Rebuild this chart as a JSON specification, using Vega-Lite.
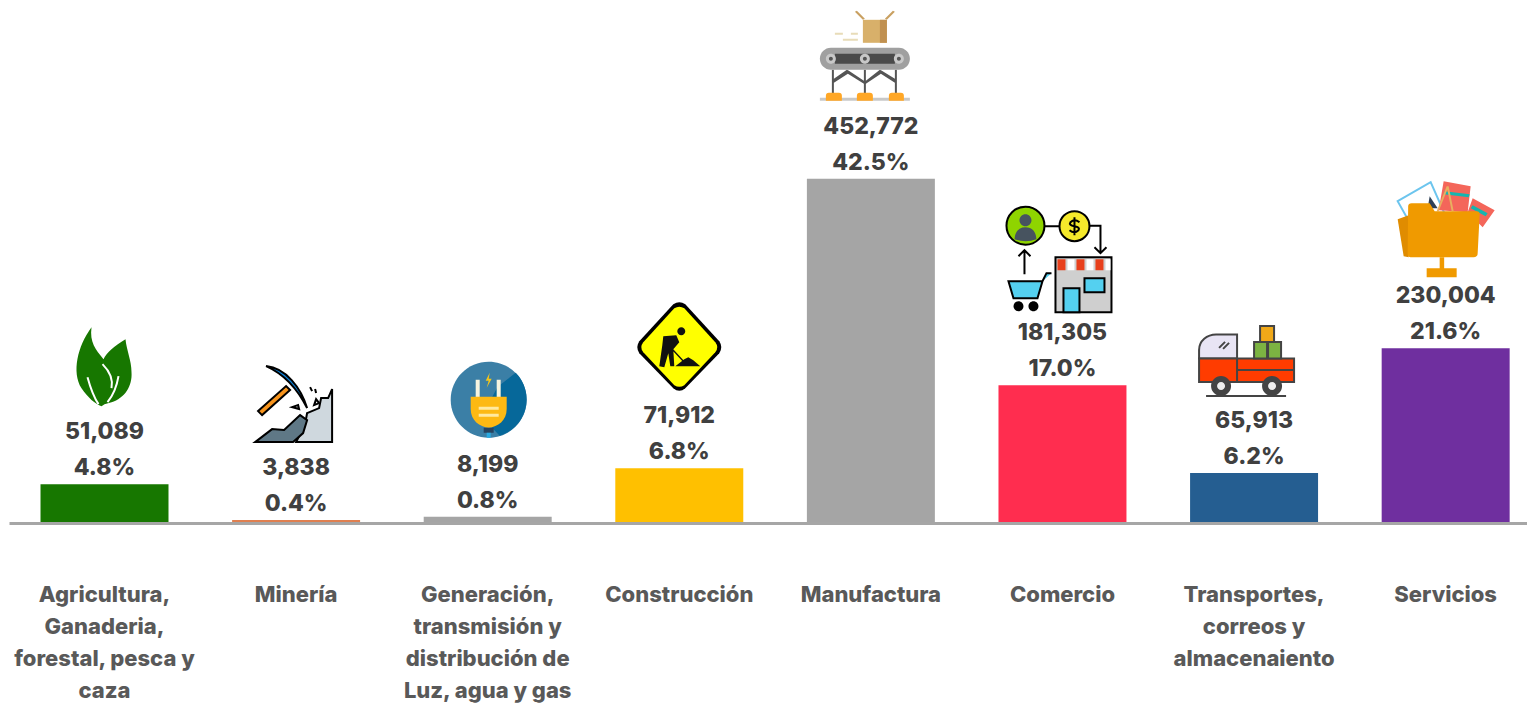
{
"$schema":"https://vega.github.io/schema/vega-lite/v6.json",
"width":1518,"height":523,
"autosize":{"type":"none"},
"padding":{"left":9,"top":0,"right":0,"bottom":181},
"background":"white",
"view":{"stroke":null},
"datasets":{
"sectors":[
{"sector":"Agricultura, Ganaderia, forestal, pesca y caza","value":51089,"pct":"4.8%"},
{"sector":"Minería","value":3838,"pct":"0.4%"},
{"sector":"Generación, transmisión y distribución de Luz, agua y gas","value":8199,"pct":"0.8%"},
{"sector":"Construcción","value":71912,"pct":"6.8%"},
{"sector":"Manufactura","value":452772,"pct":"42.5%"},
{"sector":"Comercio","value":181305,"pct":"17.0%"},
{"sector":"Transportes, correos y almacenaiento","value":65913,"pct":"6.2%"},
{"sector":"Servicios","value":230004,"pct":"21.6%"}
],
"icons":[
{"sector":"Agricultura, Ganaderia, forestal, pesca y caza","part":"leaf"},{"sector":"Agricultura, Ganaderia, forestal, pesca y caza","part":"lv"},
{"sector":"Minería","part":"p1"},{"sector":"Minería","part":"p2"},{"sector":"Minería","part":"p3"},{"sector":"Minería","part":"p4"},{"sector":"Minería","part":"p5"},
{"sector":"Generación, transmisión y distribución de Luz, agua y gas","part":"g1"},{"sector":"Generación, transmisión y distribución de Luz, agua y gas","part":"g2"},{"sector":"Generación, transmisión y distribución de Luz, agua y gas","part":"g3"},{"sector":"Generación, transmisión y distribución de Luz, agua y gas","part":"g4"},{"sector":"Generación, transmisión y distribución de Luz, agua y gas","part":"g5"},{"sector":"Generación, transmisión y distribución de Luz, agua y gas","part":"g6"},{"sector":"Generación, transmisión y distribución de Luz, agua y gas","part":"g7"},{"sector":"Generación, transmisión y distribución de Luz, agua y gas","part":"g8"},
{"sector":"Construcción","part":"s1"},{"sector":"Construcción","part":"s2"},{"sector":"Construcción","part":"s3"},
{"sector":"Manufactura","part":"f1"},{"sector":"Manufactura","part":"f2"},{"sector":"Manufactura","part":"f3"},{"sector":"Manufactura","part":"f4"},{"sector":"Manufactura","part":"f10"},{"sector":"Manufactura","part":"f9"},{"sector":"Manufactura","part":"f5"},{"sector":"Manufactura","part":"f6"},{"sector":"Manufactura","part":"f7"},{"sector":"Manufactura","part":"f8"},{"sector":"Manufactura","part":"f11"},
{"sector":"Comercio","part":"c1"},{"sector":"Comercio","part":"c2"},{"sector":"Comercio","part":"c3"},{"sector":"Comercio","part":"c4"},{"sector":"Comercio","part":"c5"},{"sector":"Comercio","part":"c6"},{"sector":"Comercio","part":"c7"},{"sector":"Comercio","part":"c8"},{"sector":"Comercio","part":"c9"},{"sector":"Comercio","part":"c10"},{"sector":"Comercio","part":"c11"},
{"sector":"Transportes, correos y almacenaiento","part":"t1"},{"sector":"Transportes, correos y almacenaiento","part":"t2"},{"sector":"Transportes, correos y almacenaiento","part":"t5"},{"sector":"Transportes, correos y almacenaiento","part":"t3"},{"sector":"Transportes, correos y almacenaiento","part":"t4"},{"sector":"Transportes, correos y almacenaiento","part":"t6"},{"sector":"Transportes, correos y almacenaiento","part":"t7"},
{"sector":"Servicios","part":"v1"},{"sector":"Servicios","part":"v2"},{"sector":"Servicios","part":"v3"},{"sector":"Servicios","part":"v4"},{"sector":"Servicios","part":"v5"},{"sector":"Servicios","part":"v6"},{"sector":"Servicios","part":"v7"},{"sector":"Servicios","part":"v8"}
]
},
"data":{"name":"sectors"},
"encoding":{
"x":{"field":"sector","type":"nominal","sort":null,
"scale":{"domain":["Agricultura, Ganaderia, forestal, pesca y caza","Minería","Generación, transmisión y distribución de Luz, agua y gas","Construcción","Manufactura","Comercio","Transportes, correos y almacenaiento","Servicios"],"paddingInner":0.332,"paddingOuter":0.1275,"align":0.645},
"axis":{"title":null,"ticks":false,"domainColor":"#a6a6a6","domainWidth":3,"zindex":1,"labelAngle":0,"labelAlign":"center","labelBaseline":"top","labelPadding":61,"labelFont":"Inter","labelFontWeight":800,"labelFontSize":22,"labelColor":"#595959","labelLineHeight":32,"labelLimit":0,"labelOverlap":false,
"labelExpr":"{'Agricultura, Ganaderia, forestal, pesca y caza':['Agricultura,','Ganaderia,','forestal, pesca y','caza'],'Generación, transmisión y distribución de Luz, agua y gas':['Generación,','transmisión y','distribución de','Luz, agua y gas'],'Transportes, correos y almacenaiento':['Transportes,','correos y','almacenaiento']}[datum.label] || datum.label"}},
"y":{"field":"value","type":"quantitative","scale":{"domain":[0,688000],"nice":false},"axis":null}
},
"layer":[
{"mark":{"type":"bar"},"encoding":{"color":{"field":"sector","type":"nominal","legend":null,"scale":{"domain":["Agricultura, Ganaderia, forestal, pesca y caza","Minería","Generación, transmisión y distribución de Luz, agua y gas","Construcción","Manufactura","Comercio","Transportes, correos y almacenaiento","Servicios"],"range":["#177700","#e08050","#a5a5a5","#ffc000","#a5a5a5","#ff2d4f","#255e91","#6f2f9f"]}}}},
{"mark":{"type":"text","font":"Inter","fontWeight":800,"fontSize":23,"color":"#404040","baseline":"middle","dy":-52},"encoding":{"text":{"field":"value","type":"quantitative","format":",d"}}},
{"mark":{"type":"text","font":"Inter","fontWeight":800,"fontSize":23,"color":"#404040","baseline":"middle","dy":-16},"encoding":{"text":{"field":"pct","type":"nominal"}}},
{"data":{"name":"icons"},
"transform":[{"lookup":"sector","from":{"data":{"name":"sectors"},"key":"sector","fields":["value"]}}],
"mark":{"type":"point","size":4,"filled":true,"opacity":1,"strokeWidth":2,"yOffset":-120},
"encoding":{
"shape":{"field":"part","type":"nominal","legend":null,"scale":{
"domain":["leaf","p1","p2","p3","p4","p5","g1","g2","g3","g4","g5","g6","g7","g8","s1","s2","s3","f1","f2","f3","f4","f5","f6","f7","f8","f9","f10","f11","c1","c2","c3","c4","c5","c6","c7","c8","c9","c10","c11","t1","t2","t3","t4","t5","t6","t7","v1","v2","v3","v4","v5","v6","v7","v8","lv"],
"range":[
"M-13,-37 C-27,-18 -33,8 -23,24 C-17,33 -9,40 -3,42 L0,40 L7,38 C20,34 28,22 27,8 C27,-4 22,-14 21,-25 C10,-18 2,-12 -1,-5 C-9,-15 -15,-22 -13,-37Z",
"M11,13 L23,8 L25,-2 L32,-2 L36,-11 L36,42 L0,42 L9,24Z",
"M-41,42 L-24,29 L-12,30 L4,15 L11,20 L7,33 L-3,42Z",
"M-38,11 L-10,-14 L-6,-10 L-34,15Z",
"M-30,-34 C-10,-32 5,-12 11,8 C2,-10 -12,-26 -30,-34Z",
"M-4,7 L2,5 L3,9Z M14,-13 L16,-9 M19,-11 L20,-7 M20,-1 L23,3 L18,5Z",
"M-37,3 A38,38 0 1 1 39,3 A38,38 0 1 1 -37,3Z",
"M28,-24 A38,38 0 0 1 12,39 L-6,20 L10,-10Z",
"M-12,-17 L-8,-17 L-8,2 L-12,2Z M9,-17 L13,-17 L13,2 L9,2Z",
"M-17,0 L19,0 L19,12 C19,24 10,30 1,31 C-8,30 -17,24 -17,12Z",
"M-9,10 L11,10 L11,13 L-9,13Z M-9,17 L11,17 L11,20 L-9,20Z",
"M-4,31 L6,31 L6,36 L-4,36Z",
"M-1,36 L3,36 L3,41 L-1,41Z",
"M2,-24 L-2,-16 L1,-16 L-1,-9 L4,-18 L1,-18Z",
"M-6,-44 Q0,-48 6,-44 L40,-7 Q44,-1 40,5 L6,40 Q0,45 -6,40 L-40,5 Q-44,-1 -40,-7Z",
"M-5,-40 Q0,-43 5,-40 L36,-6 Q40,-1 36,4 L5,37 Q0,40 -5,37 L-36,4 Q-40,-1 -36,-6Z",
"M-2,-17 A4,4 0 1 1 6,-17 A4,4 0 1 1 -2,-17Z M-16,-12 L-3,-13 L0,-6 L-6,1 L-5,18 L-9,18 L-11,5 L-15,19 L-20,18 L-17,-3Z M-7,2 L-6,1 L6,14 L5,15Z M-4,18 L5,11 L9,9 L14,12 L21,18Z",
"M-8,-39 L16,-39 L16,-16 L-8,-16Z",
"M9,-39 L16,-39 L16,-16 L9,-16Z",
"M-8,-39 L-16,-47 L-14,-48 L-6,-40Z M16,-39 L24,-47 L22,-48 L14,-40Z",
"M-36,-26 L-28,-26 L-28,-24 L-36,-24Z M-20,-26 L-13,-26 L-13,-24 L-20,-24Z M-28,-20 L-13,-20 L-13,-18 L-28,-18Z",
"M-40,-11 L28,-11 A11,11 0 0 1 28,11 L-40,11 A11,11 0 0 1 -40,-11Z",
"M-36,-5 L24,-5 L24,5 L-36,5Z",
"M-45,0 A5,5 0 1 1 -35,0 A5,5 0 1 1 -45,0Z M-11,0 A5,5 0 1 1 -1,0 A5,5 0 1 1 -11,0Z M23,0 A5,5 0 1 1 33,0 A5,5 0 1 1 23,0Z",
"M-42,0 A2,2 0 1 1 -38,0 A2,2 0 1 1 -42,0Z M-8,0 A2,2 0 1 1 -4,0 A2,2 0 1 1 -8,0Z M26,0 A2,2 0 1 1 30,0 A2,2 0 1 1 26,0Z",
"M-39,11 L-37,11 L-37,36 L-39,36Z M-7,11 L-5,11 L-5,36 L-7,36Z M24,11 L26,11 L26,36 L24,36Z M-37,20 L-24,11 L-22,12 L-7,22 L-7,25 L-23,15 L-37,24Z M-5,22 L9,11 L11,12 L24,20 L24,24 L10,15 L-5,25Z",
"M-51,39 L39,39 L39,42 L-51,42Z",
"M-45,42 L-45,37 Q-45,34 -42,34 L-32,34 Q-29,34 -29,37 L-29,42Z M-14,42 L-14,37 Q-14,34 -11,34 L-1,34 Q2,34 2,37 L2,42Z M18,42 L18,37 Q18,34 21,34 L30,34 Q33,34 33,37 L33,42Z",
"M-18,-39 L-3,-39 M27,-39.5 L38,-39.5 L38,-12 M32,-18 L38,-12 L44,-18 M-38,9 L-38,-15 M-44,-9 L-38,-15 L-32,-9 M-38,9",
"M-56,-39.5 A19,19 0 1 1 -18,-39.5 A19,19 0 1 1 -56,-39.5Z",
"M-43,-45 A6,6 0 1 1 -31,-45 A6,6 0 1 1 -43,-45Z M-48,-26 Q-47,-38 -37,-38 Q-27,-38 -26,-26 Q-37,-22 -48,-26Z",
"M-3,-39 A15,15 0 1 1 27,-39 A15,15 0 1 1 -3,-39Z",
"M17,-43 Q12,-47 8,-43 Q6,-40 12,-39 Q18,-38 16,-35 Q12,-31 7,-35 M12,-48 L12,-30",
"M-7,-8 L49,-8 L49,47 L-7,47Z",
"M-5,-6 L3,-6 L3,5 L-5,5Z M14,-6 L22,-6 L22,5 L14,5Z M33,-6 L41,-6 L41,5 L33,5Z",
"M5,-6 L12,-6 L12,5 L5,5Z M24,-6 L31,-6 L31,5 L24,5Z M43,-6 L48,-6 L48,5 L43,5Z",
"M1,23 L17,23 L17,47 L1,47Z M22,13 L42,13 L42,27 L22,27Z",
"M-11,8 L-16,8 L-20,16 L-54,16 L-49,33 L-25,33 L-20,16",
"M-49,41 A5,5 0 1 1 -39,41 A5,5 0 1 1 -49,41Z M-34,41 A5,5 0 1 1 -24,41 A5,5 0 1 1 -34,41Z",
"M-55,5.5 L-55,-3 C-55,-12 -47,-18.5 -38,-18.5 L-17,-18.5 L-17,5.5Z M-35,-5 L-29,-11 M-31,-4 L-25,-10",
"M-55,5.5 L40,5.5 L40,29 L-55,29Z M-17,5.5 L-17,29 M-17,17 L40,17",
"M-43,33 A10,10 0 1 1 -23,33 A10,10 0 1 1 -43,33Z M8,33 A10,10 0 1 1 28,33 A10,10 0 1 1 8,33Z",
"M-37,33 A4,4 0 1 1 -29,33 A4,4 0 1 1 -37,33Z M14,33 A4,4 0 1 1 22,33 A4,4 0 1 1 14,33Z",
"M-48,42 L32,42 L32,44 L-48,44Z",
"M0,-11 L13,-11 L13,5.5 L0,5.5Z M14,-11 L27,-11 L27,5.5 L14,5.5Z",
"M6,-27 L20,-27 L20,-11 L6,-11Z",
"M-48,-27 L-15,-46 L0,-12 L-30,5Z",
"M-2,-47 L25,-42 L22,-16 L-7,-18Z M27,-30 L49,-18 L37,-1 L22,-16Z",
"M-1,-37 L24,-34 L23,-31 L-2,-34Z M27,-23 L42,-15 L40,-12 L25,-20Z",
"M-16,-32 L-8,-20 L-18,-20Z",
"M-9,-17 L1,-42 L3,-42 L-7,-17Z M1,-42 L3,-42 L8,-17 L6,-17Z",
"M-48,-9 L-37,-13 L-37,29 L-42,28Z",
"M-37.5,-22 Q-37.5,-25 -34,-25 L-16,-25 L-11,-17 L31,-17 Q34,-17 34,-14 L32,25 Q32,29 28,29 L-35,29 Q-38,29 -38,25Z",
"M-6,29 L-1.5,29 L-1.5,40 L11,40 L11,49 L-19,49 L-19,40 L-6,40Z",
"M-2,0 C4,6 9,14 7,24 M-17,13 C-14,24 -10,34 -6,40 M14,12 C12,24 8,32 3,38"
]}},
"fill":{"field":"part","type":"nominal","legend":null,"scale":{
"domain":["leaf","p1","p2","p3","p4","p5","g1","g2","g3","g4","g5","g6","g7","g8","s1","s2","s3","f1","f2","f3","f4","f5","f6","f7","f8","f9","f10","f11","c1","c2","c3","c4","c5","c6","c7","c8","c9","c10","c11","t1","t2","t3","t4","t5","t6","t7","v1","v2","v3","v4","v5","v6","v7","v8","lv"],
"range":["#177700","#cfd8de","#5f7886","#f7941d","#0b7fd6","transparent","#3b7fa6","#06689a","#f6f4e0","#fdb913","#ffe9a0","#26435f","#29abe2","#f5c518","#000000","#ffff00","#111111","#d8b06a","#c09050","#c9a060","#e8dcb8","#a0a0a0","#4a4a4a","#c8c8c8","#555555","#555555","#c8c8c8","#ffa726","transparent","#8fd400","#47535f","#f5e92b","transparent","#cfcfcf","#e8401c","#ffffff","#54d0f0","#54d0f0","#000000","#e8e4f4","#ff3c00","#444444","#eeeeee","#444444","#7cb342","#f0a818","#ffffff","#f4665a","#16b5b0","#2e4057","#e8b060","#e08c00","#f09a00","#f09a00","transparent"]}},
"stroke":{"field":"part","type":"nominal","legend":null,"scale":{
"domain":["leaf","p1","p2","p3","p4","p5","g1","g2","g3","g4","g5","g6","g7","g8","s1","s2","s3","f1","f2","f3","f4","f5","f6","f7","f8","f9","f10","f11","c1","c2","c3","c4","c5","c6","c7","c8","c9","c10","c11","t1","t2","t3","t4","t5","t6","t7","v1","v2","v3","v4","v5","v6","v7","v8","lv"],
"range":["transparent","#000000","#000000","#000000","#000000","#000000","transparent","transparent","transparent","transparent","transparent","transparent","transparent","transparent","transparent","transparent","transparent","transparent","transparent","transparent","transparent","transparent","transparent","transparent","transparent","transparent","transparent","transparent","#000000","#000000","transparent","#000000","#000000","#000000","transparent","transparent","#000000","#000000","transparent","#444444","#444444","transparent","transparent","transparent","#444444","#444444","#6cc5ee","transparent","transparent","transparent","transparent","transparent","transparent","transparent","#ffffff"]}}
}}
]
}
